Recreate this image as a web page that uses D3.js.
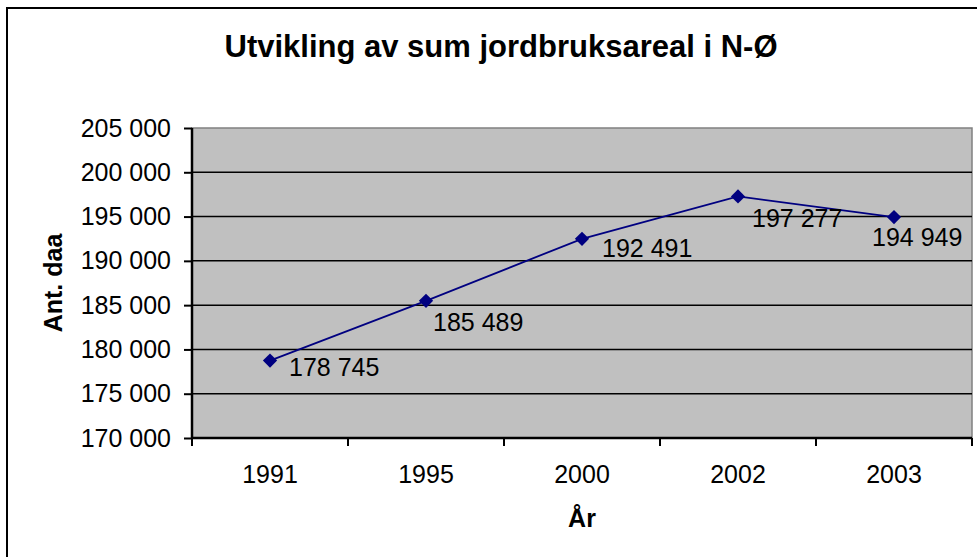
<!DOCTYPE html>
<html>
<head>
<meta charset="utf-8">
<script src="https://cdn.jsdelivr.net/npm/d3@7"></script>
<style>
  body { margin: 0; background: #fff; }
  svg { display: block; font-family: Arial, "Liberation Sans", sans-serif; }
</style>
</head>
<body>
<svg id="chart" width="977" height="557"></svg>
<script>
var years = ['1991', '1995', '2000', '2002', '2003']
var areal = [178745, 185489, 192491, 197277, 194949]
var yTicks = [170000, 175000, 180000, 185000, 190000, 195000, 200000, 205000]
// hand placed data labels, offset from the point (left edge, baseline)
var labelOffsets = [[19, 15], [7, 30], [20, 18], [14, 31], [-22, 29]]

var W = 977
,   H = 557
,   plot = {left: 192, top: 128, right: 972, bottom: 438}
,   navy = '#000080'
,   fontSize = 25

var fmt = function(v) { return d3.format(',')(v).replace(/,/g, ' ') }

var svg = d3.select('#chart')

// chart frame (cut off at right and bottom)
svg.append('rect')
  .attr('x', 7).attr('y', 8)
  .attr('width', W + 20).attr('height', H + 20)
  .attr('fill', '#fff')
  .attr('stroke', '#000')
  .attr('stroke-width', 2)

var x = d3.scaleBand()
  .domain(years)
  .range([plot.left, plot.right])

var y = d3.scaleLinear()
  .domain([170000, 205000])
  .range([plot.bottom, plot.top])

svg.append('rect')
  .attr('x', plot.left).attr('y', plot.top)
  .attr('width', plot.right - plot.left)
  .attr('height', plot.bottom - plot.top)
  .attr('fill', '#c0c0c0')
  .attr('stroke', '#808080')
  .attr('stroke-width', 1.5)

// gridlines
svg.append('g')
  .selectAll('line')
  .data(yTicks.filter((t) => t > 170000 && t < 205000))
  .enter().append('line')
  .attr('x1', plot.left).attr('x2', plot.right)
  .attr('y1', (d) => y(d)).attr('y2', (d) => y(d))
  .attr('stroke', '#000')
  .attr('stroke-width', 1.5)

var yAxis = svg.append('g')
  .attr('transform', 'translate(' + plot.left + ',0)')
  .call(d3.axisLeft(y).tickValues(yTicks).tickFormat(fmt).tickSize(8).tickPadding(13))

var xAxis = svg.append('g')
  .attr('transform', 'translate(0,' + plot.bottom + ')')
  .call(d3.axisBottom(x).tickSize(0).tickPadding(27))

// category separators on the x axis
svg.append('g')
  .selectAll('line')
  .data(years.concat(['end']))
  .enter().append('line')
  .attr('x1', (d, i) => plot.left + i * x.step())
  .attr('x2', (d, i) => plot.left + i * x.step())
  .attr('y1', plot.bottom).attr('y2', plot.bottom + 8)
  .attr('stroke', '#000')
  .attr('stroke-width', 2)

;[yAxis, xAxis].forEach((a) => {
  a.select('.domain').attr('stroke', '#000').attr('stroke-width', 2.5)
  a.selectAll('.tick line').attr('stroke', '#000').attr('stroke-width', 2)
  a.selectAll('.tick text')
    .attr('font-size', fontSize)
    .attr('fill', '#000')
    .attr('font-family', 'Arial, "Liberation Sans", sans-serif')
})
yAxis.select('.domain').attr('d', 'M0,' + plot.top + 'V' + plot.bottom)
xAxis.select('.domain').attr('d', 'M' + plot.left + ',0H' + plot.right)

var cx = (d, i) => x(years[i]) + x.bandwidth() / 2

svg.append('path')
  .datum(areal)
  .attr('fill', 'none')
  .attr('stroke', navy)
  .attr('stroke-width', 1.8)
  .attr('d', d3.line().x(cx).y((d) => y(d)))

svg.append('g')
  .selectAll('path')
  .data(areal)
  .enter().append('path')
  .attr('d', d3.symbol().type(d3.symbolDiamond2).size(130))
  .attr('fill', navy)
  .attr('transform', (d, i) => 'translate(' + cx(d, i) + ',' + y(d) + ')')

svg.append('g')
  .selectAll('text')
  .data(areal)
  .enter().append('text')
  .attr('x', (d, i) => cx(d, i) + labelOffsets[i][0])
  .attr('y', (d, i) => y(d) + labelOffsets[i][1])
  .attr('font-size', fontSize)
  .text(fmt)

svg.append('text')
  .attr('x', 501).attr('y', 57)
  .attr('text-anchor', 'middle')
  .attr('font-size', 31)
  .attr('font-weight', 'bold')
  .text('Utvikling av sum jordbruksareal i N-Ø')

svg.append('text')
  .attr('x', (plot.left + plot.right) / 2).attr('y', 527)
  .attr('text-anchor', 'middle')
  .attr('font-size', fontSize)
  .attr('font-weight', 'bold')
  .text('År')

svg.append('text')
  .attr('transform', 'translate(62,' + (plot.top + plot.bottom) / 2 + ') rotate(-90)')
  .attr('text-anchor', 'middle')
  .attr('font-size', fontSize)
  .attr('font-weight', 'bold')
  .text('Ant. daa')
</script>
</body>
</html>
